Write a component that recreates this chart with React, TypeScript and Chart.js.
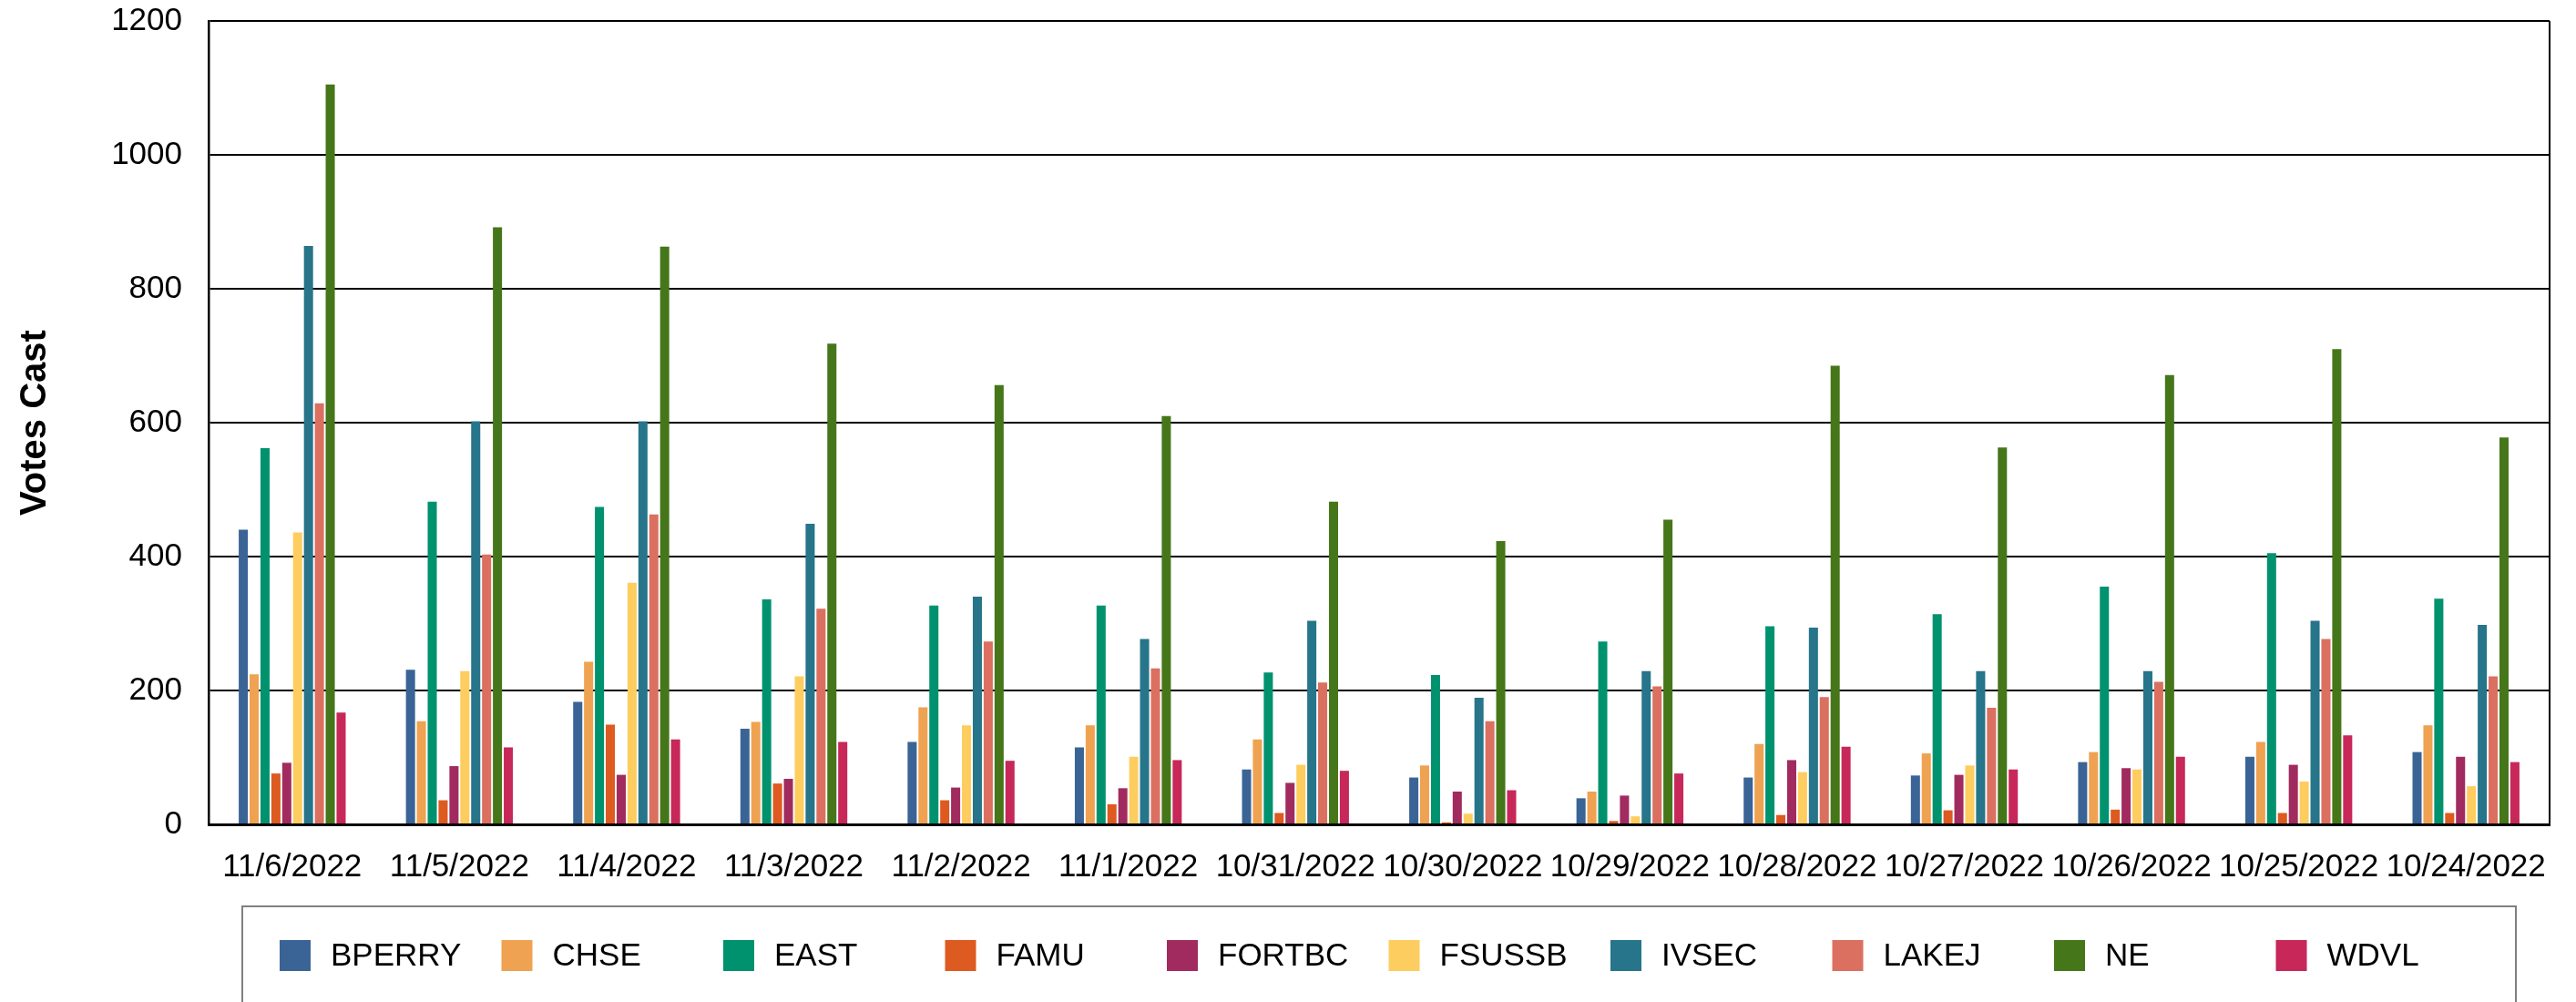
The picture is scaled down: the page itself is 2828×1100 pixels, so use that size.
import React, { useEffect, useRef } from "react";
import { Chart, registerables } from "chart.js";

Chart.register(...registerables);

const categories = [
  "11/6/2022", "11/5/2022", "11/4/2022", "11/3/2022", "11/2/2022", "11/1/2022", "10/31/2022",
  "10/30/2022", "10/29/2022", "10/28/2022", "10/27/2022", "10/26/2022", "10/25/2022", "10/24/2022",
];

const seriesNames = ["BPERRY", "CHSE", "EAST", "FAMU", "FORTBC", "FSUSSB", "IVSEC", "LAKEJ", "NE", "WDVL"];
const seriesColors = [
  "#3A6496", "#EFA251", "#00926F", "#DD5A20", "#A12B5E",
  "#FECD60", "#26758A", "#DB7061", "#46761A", "#C72759",
];

const BPERRY = [440, 231, 183, 143, 123, 115, 82, 70, 39, 70, 73, 93, 101, 108];
const CHSE = [224, 154, 243, 153, 175, 148, 127, 88, 49, 120, 106, 108, 123, 148];
const EAST = [562, 482, 474, 336, 327, 327, 227, 223, 273, 296, 314, 355, 405, 337];
const FAMU = [76, 36, 149, 61, 36, 30, 17, 3, 5, 14, 21, 22, 17, 17];
const FORTBC = [92, 87, 74, 68, 55, 54, 62, 49, 43, 96, 74, 84, 89, 101];
const FSUSSB = [436, 229, 361, 221, 148, 101, 89, 16, 12, 78, 88, 82, 64, 57];
const IVSEC = [864, 602, 602, 449, 340, 277, 304, 189, 229, 294, 229, 229, 304, 298];
const LAKEJ = [629, 403, 463, 322, 273, 233, 212, 154, 206, 190, 174, 213, 277, 221];
const NE = [1105, 892, 863, 718, 656, 610, 482, 423, 455, 685, 563, 671, 710, 578];
const WDVL = [167, 115, 127, 123, 95, 96, 80, 51, 76, 116, 82, 101, 133, 93];

const seriesValues = [BPERRY, CHSE, EAST, FAMU, FORTBC, FSUSSB, IVSEC, LAKEJ, NE, WDVL];

const yTitle = "Votes Cast";
const FONT = "'Liberation Sans', Arial, sans-serif";

const W = 2828;
const H = 1100;

const frameAndLegend = {
  id: "frameAndLegend",
  afterDraw(chart: any) {
    const { ctx, chartArea } = chart;
    ctx.save();
    // right border of plot frame
    ctx.strokeStyle = "#000";
    ctx.lineWidth = 2;
    ctx.beginPath();
    ctx.moveTo(chartArea.right, chartArea.top);
    ctx.lineTo(chartArea.right, chartArea.bottom);
    ctx.stroke();

    // legend box
    const boxL = 266;
    const boxT = 995;
    const boxR = 2762;
    ctx.strokeStyle = "#808080";
    ctx.lineWidth = 2;
    ctx.beginPath();
    ctx.moveTo(boxL, H + 5);
    ctx.lineTo(boxL, boxT);
    ctx.lineTo(boxR, boxT);
    ctx.lineTo(boxR, H + 5);
    ctx.stroke();

    const startX = 307;
    const step = 243.5;
    const sw = 34;
    const swTop = 1032;
    ctx.font = `35px ${FONT}`;
    ctx.textBaseline = "middle";
    ctx.textAlign = "left";
    chart.data.datasets.forEach((ds: any, i: number) => {
      const x = startX + i * step;
      ctx.fillStyle = ds.backgroundColor;
      ctx.fillRect(x, swTop, sw, sw);
      ctx.fillStyle = "#000";
      ctx.fillText(ds.label, x + 56, swTop + sw / 2 + 1);
    });
    ctx.restore();
  },
};

export default function App() {
  const ref = useRef<HTMLCanvasElement | null>(null);

  useEffect(() => {
    if (!ref.current) return;
    Chart.defaults.color = "#000";
    Chart.defaults.font.family = FONT;
    const chart = new Chart(ref.current, {
      type: "bar",
      data: {
        labels: categories,
        datasets: seriesNames.map((name, i) => ({
          label: name,
          data: seriesValues[i],
          backgroundColor: seriesColors[i],
          borderWidth: 0,
          categoryPercentage: 0.65,
          barPercentage: 0.84,
        })),
      },
      options: {
        responsive: false,
        animation: false,
        devicePixelRatio: 1,
        layout: { padding: { left: 0, top: 23, right: 29, bottom: 0 } },
        plugins: {
          legend: { display: false },
          tooltip: { enabled: false },
        },
        scales: {
          x: {
            grid: { display: false, drawTicks: false },
            border: { display: true, color: "#000", width: 3 },
            ticks: {
              font: { size: 35, family: FONT },
              color: "#000",
              padding: 26,
              maxRotation: 0,
              autoSkip: false,
            },
            afterFit: (scale: any) => {
              scale.height = H - 905;
              scale.paddingLeft = 0;
              scale.paddingRight = 0;
            },
          },
          y: {
            min: 0,
            max: 1200,
            grid: { color: "#000", lineWidth: 2, drawTicks: false },
            border: { display: true, color: "#000", width: 2.5 },
            ticks: {
              stepSize: 200,
              font: { size: 35, family: FONT },
              color: "#000",
              padding: 29,
              callback: (v: any) => String(v),
            },
            title: {
              display: true,
              text: yTitle,
              font: { size: 40, weight: "bold", family: FONT },
              color: "#000",
              padding: { top: 15, bottom: 0 },
            },
            afterFit: (scale: any) => {
              scale.width = 229;
              scale.paddingTop = 0;
              scale.paddingBottom = 0;
            },
          },
        },
      },
      plugins: [frameAndLegend],
    });
    return () => chart.destroy();
  }, []);

  return (
    <div style={{ position: "fixed", left: 0, top: 0, width: W, height: H, background: "#fff" }}>
      <canvas ref={ref} width={W} height={H} style={{ display: "block", width: W, height: H }} />
    </div>
  );
}
